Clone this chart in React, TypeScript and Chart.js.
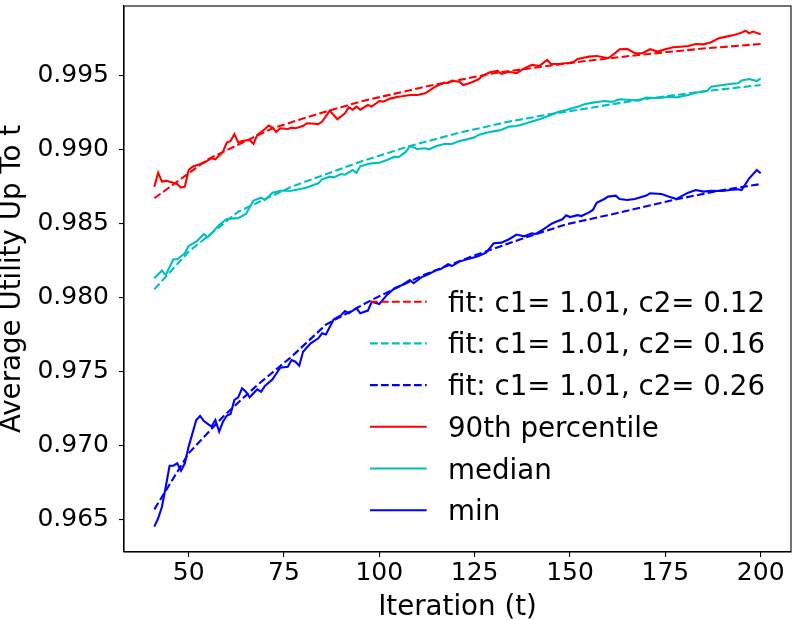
import React, { useEffect, useRef } from "react"
import { Chart, registerables } from "chart.js"

Chart.register(...registerables)

// 90th percentile (red)
const p90X = [41, 42, 43, 44, 46, 47, 48, 49, 50, 51, 54, 56, 57, 59, 60, 61, 62, 63, 64, 66, 67, 68, 70, 71, 72, 73, 74, 76, 77, 78, 80, 81, 83, 84, 85, 87, 89, 91, 92, 93, 94, 95, 97, 98, 100, 101, 103, 105, 106, 108, 110, 112, 114, 115, 117, 118, 119, 121, 122, 124, 126, 127, 129, 131, 132, 134, 136, 138, 140, 142, 144, 145, 147, 150, 151, 152, 153, 155, 157, 160, 162, 163, 165, 167, 169, 171, 173, 175, 177, 179, 181, 183, 185, 187, 189, 191, 193, 195, 196, 197, 198, 200]
const p90Y = [0.98747, 0.98842, 0.98781, 0.98788, 0.98774, 0.98766, 0.98741, 0.98747, 0.9886, 0.98882, 0.98909, 0.98939, 0.98932, 0.98984, 0.99045, 0.99056, 0.99103, 0.99045, 0.99056, 0.99063, 0.99036, 0.99097, 0.99137, 0.9916, 0.99146, 0.99117, 0.99142, 0.99137, 0.99146, 0.99142, 0.99157, 0.99176, 0.99172, 0.9917, 0.99187, 0.99261, 0.99203, 0.99243, 0.99284, 0.99268, 0.99288, 0.99268, 0.99299, 0.99288, 0.99326, 0.99322, 0.99344, 0.99355, 0.99358, 0.99367, 0.99367, 0.99378, 0.99412, 0.99428, 0.9945, 0.99446, 0.99464, 0.99457, 0.99434, 0.9945, 0.99473, 0.99495, 0.9952, 0.99529, 0.99509, 0.99524, 0.99514, 0.99547, 0.9957, 0.99563, 0.99603, 0.99576, 0.99576, 0.99585, 0.9959, 0.9961, 0.99615, 0.99626, 0.9963, 0.99615, 0.99653, 0.99676, 0.99678, 0.99649, 0.99649, 0.99676, 0.9966, 0.99676, 0.99689, 0.99693, 0.99698, 0.99711, 0.99709, 0.99723, 0.9975, 0.99761, 0.99772, 0.99788, 0.99801, 0.99784, 0.99795, 0.99777]

// median (cyan)
const medX = [41, 43, 44, 46, 47, 49, 50, 52, 54, 55, 56, 58, 60, 62, 63, 65, 66, 67, 69, 70, 72, 74, 77, 79, 81, 84, 85, 87, 88, 90, 91, 93, 94, 95, 97, 98, 100, 102, 104, 105, 107, 108, 110, 112, 113, 115, 117, 119, 121, 123, 125, 126, 128, 131, 132, 134, 136, 138, 140, 142, 145, 147, 149, 151, 152, 154, 156, 159, 161, 163, 165, 168, 170, 173, 176, 178, 181, 183, 186, 187, 190, 192, 194, 195, 197, 199, 200]
const medY = [0.98128, 0.9818, 0.98151, 0.98257, 0.98257, 0.98297, 0.98347, 0.98376, 0.98428, 0.98405, 0.98432, 0.98488, 0.98529, 0.98533, 0.98534, 0.98563, 0.98608, 0.98653, 0.98673, 0.98657, 0.98707, 0.9872, 0.9872, 0.9873, 0.98741, 0.9877, 0.98797, 0.98815, 0.9881, 0.98833, 0.98828, 0.9886, 0.9884, 0.98885, 0.98901, 0.98905, 0.98909, 0.98928, 0.9895, 0.98946, 0.98984, 0.99022, 0.99002, 0.99007, 0.99, 0.99022, 0.99036, 0.99036, 0.99056, 0.99067, 0.99081, 0.99097, 0.99112, 0.99126, 0.9913, 0.99153, 0.99157, 0.99171, 0.99187, 0.99203, 0.99232, 0.99254, 0.99266, 0.9928, 0.99288, 0.99306, 0.99315, 0.99326, 0.9932, 0.99338, 0.99335, 0.99329, 0.99349, 0.99345, 0.99355, 0.99351, 0.99367, 0.99382, 0.99396, 0.99423, 0.99434, 0.99441, 0.99446, 0.99464, 0.99475, 0.99461, 0.9948]

// min (blue)
const minX = [41, 42, 43, 44, 45, 46, 47, 48, 49, 50, 52, 53, 54, 56, 57, 58, 59, 60, 61, 62, 63, 64, 65, 66, 67, 68, 69, 70, 72, 74, 76, 77, 78, 79, 80, 82, 84, 85, 86, 88, 90, 91, 92, 94, 95, 97, 98, 100, 102, 104, 106, 108, 109, 111, 113, 115, 116, 118, 119, 121, 123, 125, 126, 128, 130, 132, 134, 136, 138, 140, 141, 143, 145, 146, 148, 149, 150, 152, 153, 155, 156, 157, 159, 160, 162, 163, 165, 167, 170, 171, 174, 176, 178, 179, 181, 183, 185, 187, 190, 192, 194, 195, 197, 199, 200]
const minY = [0.9645, 0.96507, 0.96585, 0.9672, 0.96862, 0.96862, 0.96878, 0.96828, 0.96878, 0.96991, 0.97171, 0.97198, 0.97164, 0.97126, 0.97171, 0.97092, 0.9716, 0.972, 0.97211, 0.97306, 0.97324, 0.97385, 0.97362, 0.97324, 0.97351, 0.97378, 0.97362, 0.97401, 0.97446, 0.97524, 0.97531, 0.97576, 0.97565, 0.97538, 0.97632, 0.97689, 0.97723, 0.97757, 0.97748, 0.9785, 0.9788, 0.97907, 0.97892, 0.97926, 0.97892, 0.9791, 0.9797, 0.97955, 0.98016, 0.98061, 0.98083, 0.98117, 0.98095, 0.98135, 0.98157, 0.98184, 0.98189, 0.98223, 0.98211, 0.98241, 0.98257, 0.9827, 0.98279, 0.98301, 0.98365, 0.98369, 0.98392, 0.98424, 0.98412, 0.98432, 0.98428, 0.98459, 0.98494, 0.98507, 0.98527, 0.98554, 0.98542, 0.98555, 0.98549, 0.98574, 0.9859, 0.98639, 0.98664, 0.9868, 0.98687, 0.98664, 0.98657, 0.98664, 0.98687, 0.98703, 0.98698, 0.9868, 0.98664, 0.9868, 0.98707, 0.98725, 0.98714, 0.9872, 0.98718, 0.98725, 0.9873, 0.98725, 0.98804, 0.9886, 0.98838]

// fitted curves (dashed)
const fitP90X = [41, 55, 72, 83, 95, 112, 130, 152, 169, 186, 200]
const fitP90Y = [0.98669, 0.98932, 0.99142, 0.99232, 0.99322, 0.99423, 0.99514, 0.9959, 0.9964, 0.99683, 0.99711]
const fitMedX = [41, 50, 63, 77, 95, 108, 121, 134, 145, 152, 169, 186, 200]
const fitMedY = [0.98054, 0.98308, 0.98578, 0.98747, 0.98916, 0.99022, 0.99112, 0.99187, 0.99238, 0.99266, 0.99338, 0.99394, 0.99434]
const fitMinX = [41, 50, 59, 68, 77, 86, 98, 111, 124, 137, 149, 163, 177, 189, 200]
const fitMinY = [0.96567, 0.96946, 0.97193, 0.97407, 0.97599, 0.97815, 0.97982, 0.98144, 0.98274, 0.98392, 0.98493, 0.98572, 0.98657, 0.9872, 0.98765]

const labels = [
  "fit: c1= 1.01, c2= 0.12",
  "fit: c1= 1.01, c2= 0.16",
  "fit: c1= 1.01, c2= 0.26",
  "90th percentile",
  "median",
  "min",
]

const yTicks = [0.965, 0.97, 0.975, 0.98, 0.985, 0.99, 0.995]
const xTicks = [50, 75, 100, 125, 150, 175, 200]

const RED = "#ff0000"
const CYAN = "#00bfbf"
const BLUE = "#0000ff"
const FONT = "'DejaVu Sans', sans-serif"
const DASH = [7.7, 3.3]

const pts = (xs: number[], ys: number[]) => xs.map((x, i) => ({ x, y: ys[i] }))

// legend drawn inside the plot, plus the box around the axes
const insideLegend = {
  id: "insideLegend",
  afterDraw(chart: any) {
    const { ctx, chartArea } = chart
    const x0 = chartArea.left + 246
    const y0 = chartArea.top + 295.7
    const rowH = 41.7
    ctx.save()
    ctx.font = `27.7px ${FONT}`
    ctx.textBaseline = "alphabetic"
    ctx.textAlign = "left"
    chart.data.datasets.forEach((ds: any, i: number) => {
      const y = y0 + i * rowH
      ctx.strokeStyle = ds.borderColor
      ctx.lineWidth = ds.borderWidth
      ctx.setLineDash(ds.borderDash || [])
      ctx.beginPath()
      ctx.moveTo(x0, y)
      ctx.lineTo(x0 + 56.7, y)
      ctx.stroke()
      ctx.setLineDash([])
      ctx.fillStyle = "#000"
      ctx.fillText(ds.label, x0 + 78, y + 10)
    })
    ctx.strokeStyle = "#000"
    ctx.lineWidth = 1.1
    ctx.strokeRect(chartArea.left, chartArea.top, chartArea.right - chartArea.left, chartArea.bottom - chartArea.top)
    ctx.restore()
  },
}

export default function App() {
  const canvasRef = useRef<HTMLCanvasElement>(null)
  const chartRef = useRef<Chart | null>(null)

  useEffect(() => {
    if (!canvasRef.current) return
    chartRef.current?.destroy()

    const fitSet = (label: string, xs: number[], ys: number[], color: string) => ({
      label,
      data: pts(xs, ys),
      borderColor: color,
      backgroundColor: color,
      borderWidth: 2.1,
      borderDash: DASH,
      pointRadius: 0,
      tension: 0,
      fill: false,
      order: 1,
    })
    const lineSet = (label: string, xs: number[], ys: number[], color: string) => ({
      label,
      data: pts(xs, ys),
      borderColor: color,
      backgroundColor: color,
      borderWidth: 2.1,
      pointRadius: 0,
      tension: 0,
      fill: false,
      order: 0,
    })

    chartRef.current = new Chart(canvasRef.current, {
      type: "line",
      data: {
        datasets: [
          fitSet(labels[0], fitP90X, fitP90Y, RED),
          fitSet(labels[1], fitMedX, fitMedY, CYAN),
          fitSet(labels[2], fitMinX, fitMinY, BLUE),
          lineSet(labels[3], p90X, p90Y, RED),
          lineSet(labels[4], medX, medY, CYAN),
          lineSet(labels[5], minX, minY, BLUE),
        ],
      },
      options: {
        animation: false,
        responsive: true,
        maintainAspectRatio: false,
        layout: { padding: { left: 0, top: 6, right: 8, bottom: 0 } },
        plugins: { legend: { display: false }, tooltip: { enabled: false } },
        scales: {
          x: {
            type: "linear",
            min: 33.05,
            max: 207.95,
            afterFit: (s: any) => {
              s.height = 68
              s.paddingLeft = 0
              s.paddingRight = 0
            },
            afterBuildTicks: (s: any) => {
              s.ticks = xTicks.map((v) => ({ value: v }))
            },
            ticks: {
              font: { family: FONT, size: 25 },
              color: "#000",
              padding: 1,
              maxRotation: 0,
              callback: (v: any) => String(v),
            },
            grid: { drawOnChartArea: false, tickLength: 5, color: "#000", lineWidth: 1.1 },
            border: { display: true, color: "#000", width: 1.1 },
            title: {
              display: true,
              text: "Iteration (t)",
              color: "#000",
              font: { family: FONT, size: 27.7, lineHeight: 0.85 },
              padding: { top: 0, bottom: 0 },
            },
          },
          y: {
            type: "linear",
            min: 0.96279,
            max: 0.99968,
            afterFit: (s: any) => {
              s.width = 124
              s.paddingTop = 0
              s.paddingBottom = 0
            },
            afterBuildTicks: (s: any) => {
              s.ticks = yTicks.map((v) => ({ value: v }))
            },
            ticks: {
              font: { family: FONT, size: 25 },
              color: "#000",
              padding: 10,
              callback: (v: any) => Number(v).toFixed(3),
            },
            grid: { drawOnChartArea: false, tickLength: 5, color: "#000", lineWidth: 1.1 },
            border: { display: true, color: "#000", width: 1.1 },
            title: {
              display: true,
              text: "Average Utility Up To t",
              color: "#000",
              font: { family: FONT, size: 27.7, lineHeight: 0.85 },
              padding: { top: 1.5, bottom: 0 },
            },
          },
        },
      },
      plugins: [insideLegend],
    })

    return () => {
      chartRef.current?.destroy()
      chartRef.current = null
    }
  }, [])

  return (
    <div style={{ position: "fixed", left: 0, top: 0, width: 799, height: 620, background: "#fff" }}>
      <canvas ref={canvasRef} />
    </div>
  )
}
